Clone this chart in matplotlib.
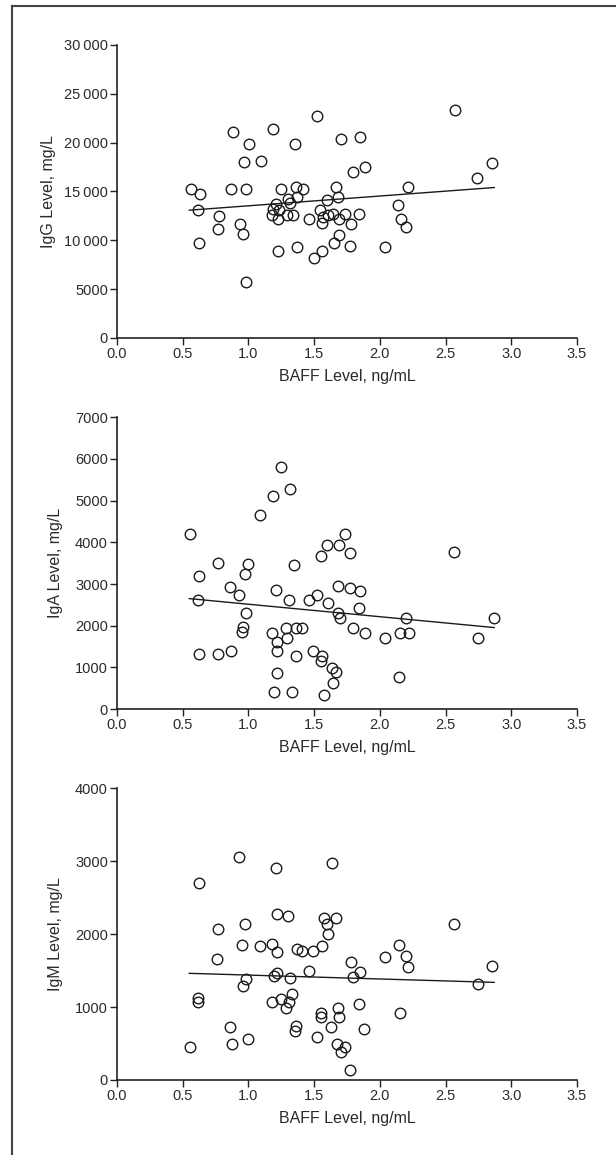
import numpy as np
import matplotlib
matplotlib.use('Agg')
import matplotlib.pyplot as plt
from matplotlib.lines import Line2D

plt.rcParams['font.family'] = ['Liberation Sans Narrow', 'Liberation Sans', 'DejaVu Sans']

# IgG panel
igg_x = [0.563, 0.632, 0.619, 0.627, 0.779, 0.771, 0.865, 0.880, 0.936, 0.956,
         0.967, 0.984, 0.979, 1.007, 1.093, 1.190, 1.246, 1.210, 1.190, 1.233,
         1.180, 1.228, 1.223, 1.304, 1.317, 1.296, 1.337, 1.362, 1.372, 1.413,
         1.352, 1.367, 1.464, 1.525, 1.545, 1.570, 1.606, 1.558, 1.598, 1.560,
         1.497, 1.641, 1.649, 1.669, 1.682, 1.687, 1.692, 1.702, 1.738, 1.776,
         1.778, 1.796, 1.842, 1.852, 1.887, 2.040, 2.141, 2.159, 2.202, 2.212,
         2.570, 2.737, 2.854]
igg_y = [15300, 14720, 13115, 9768, 12534, 11168, 15233, 21038, 11646, 10690,
         17965, 15233, 5704, 19843, 18067, 21380, 15233, 13730, 13217, 13115,
         12568, 12159, 8914, 14208, 13798, 12603, 12568, 15437, 14481, 15233,
         19843, 9358, 12159, 22678, 13115, 12364, 12603, 11749, 14139, 8914,
         8163, 12671, 9768, 15437, 14413, 10553, 12159, 20390, 12671, 9426,
         11680, 16940, 12671, 20561, 17452, 9358, 13593, 12227, 11373, 15437,
         23293, 16360, 17896]

# IgA panel
iga_x = [0.556, 0.627, 0.614, 0.621, 0.766, 0.766, 0.860, 0.868, 0.928, 0.977,
         0.999, 0.979, 0.961, 0.949, 1.091, 1.190, 1.246, 1.319, 1.208, 1.182,
         1.218, 1.218, 1.215, 1.197, 1.310, 1.286, 1.296, 1.365, 1.410, 1.349,
         1.365, 1.329, 1.464, 1.525, 1.491, 1.560, 1.555, 1.550, 1.598, 1.606,
         1.636, 1.667, 1.646, 1.573, 1.679, 1.687, 1.733, 1.773, 1.682, 1.700,
         1.776, 1.852, 1.842, 1.796, 1.885, 2.042, 2.154, 2.219, 2.202, 2.144,
         2.567, 2.745, 2.866]
iga_y = [4201, 3201, 2617, 1314, 3513, 1322, 2937, 1386, 2745, 3249,
         3473, 2297, 1962, 1842, 4656, 5104, 5808, 5280, 2865, 1826,
         1618, 1386, 874, 418, 2617, 1938, 1714, 1938, 1938, 3457,
         1274, 418, 2609, 2737, 1386, 1282, 1162, 3681, 3937, 2537,
         978, 882, 618, 338, 2961, 3937, 4201, 3745, 2313, 2178,
         2913, 2841, 2433, 1938, 1834, 1714, 1834, 1834, 2178, 778,
         3769, 1714, 2193]

# IgM panel
igm_x = [0.556, 0.627, 0.619, 0.614, 0.766, 0.764, 0.860, 0.873, 0.931, 0.951,
         0.977, 0.982, 0.959, 0.999, 1.091, 1.208, 1.218, 1.182, 1.220, 1.220,
         1.197, 1.182, 1.246, 1.304, 1.319, 1.332, 1.311, 1.286, 1.365, 1.355,
         1.367, 1.410, 1.461, 1.494, 1.560, 1.520, 1.550, 1.553, 1.573, 1.598,
         1.606, 1.636, 1.667, 1.629, 1.682, 1.692, 1.677, 1.735, 1.702, 1.776,
         1.778, 1.796, 1.852, 1.842, 1.882, 2.042, 2.144, 2.202, 2.217, 2.154,
         2.567, 2.745, 2.856]
igm_y = [447, 2696, 1128, 1069, 2065, 1658, 726, 492, 3058, 1855,
         2134, 1384, 1293, 556, 1837, 2902, 2276, 1860, 1759, 1471,
         1425, 1073, 1110, 2253, 1402, 1174, 1073, 982, 744, 671,
         1796, 1768, 1489, 1768, 1841, 584, 922, 867, 2225, 2138,
         1997, 2980, 2225, 721, 982, 863, 492, 456, 387, 136,
         1613, 1416, 1485, 1041, 694, 1681, 1846, 1695, 1553, 922,
         2138, 1320, 1558]

# fitted lines, endpoints
fit_x = [0.55, 2.87]
igg_fit = [13080, 15400]
iga_fit = [2650, 1955]
igm_fit = [1462, 1338]

x_ticks = [0.0, 0.5, 1.0, 1.5, 2.0, 2.5, 3.0, 3.5]
igg_ticks = [0, 5000, 10000, 15000, 20000, 25000, 30000]
iga_ticks = [0, 1000, 2000, 3000, 4000, 5000, 6000, 7000]
igm_ticks = [0, 1000, 2000, 3000, 4000]


def fmt(v):
    s = str(v)
    if len(s) > 4:
        s = s[:-3] + '\u2009' + s[-3:]
    return s


panels = [
    ([0.1899, 0.7074, 0.7468, 0.2537], igg_x, igg_y, igg_fit, igg_ticks, 'IgG Level, mg/L', -0.132),
    ([0.1899, 0.3861, 0.7468, 0.2526], iga_x, iga_y, iga_fit, iga_ticks, 'IgA Level, mg/L', -0.118),
    ([0.1899, 0.0650, 0.7468, 0.2525], igm_x, igm_y, igm_fit, igm_ticks, 'IgM Level, mg/L', -0.118),
]

fig = plt.figure(figsize=(6.16, 11.55), dpi=100, facecolor='w')

for rect, xs, ys, fit, yt, ylab, lx in panels:
    ax = fig.add_axes(rect)
    ax.plot(xs, ys, 'o', mfc='none', mec='#1a1a1a', ms=7.6, mew=1.0, clip_on=False)
    ax.plot(fit_x, fit, color='#1a1a1a', lw=1.0)
    ax.set_xlim(0, 3.5)
    ax.set_ylim(yt[0], yt[-1])
    ax.set_xticks(x_ticks)
    ax.set_xticklabels(['%.1f' % t for t in x_ticks])
    ax.set_yticks(yt)
    ax.set_yticklabels([fmt(t) for t in yt])
    ax.spines['top'].set_visible(False)
    ax.spines['right'].set_visible(False)
    for s in ['left', 'bottom']:
        ax.spines[s].set_linewidth(1.2)
        ax.spines[s].set_color('#222222')
    ax.tick_params(direction='out', length=5, width=1.0, color='#222222',
                   labelsize=10.5, labelcolor='#2a2a2a', pad=1.5)
    ax.set_xlabel('BAFF Level, ng/mL', fontsize=11.5, color='#2a2a2a', labelpad=6)
    ax.set_ylabel(ylab, fontsize=11.5, color='#2a2a2a')
    ax.yaxis.set_label_coords(lx, 0.5)

# frame around the figure (left and top edges)
fig.add_artist(Line2D([12 / 616, 12 / 616], [0, 1 - 6 / 1155], color='#444444', lw=1.5))
fig.add_artist(Line2D([12 / 616, 1], [1 - 6 / 1155, 1 - 6 / 1155], color='#444444', lw=1.5))

fig.savefig('out.png', dpi=100)
plt.close('all')
